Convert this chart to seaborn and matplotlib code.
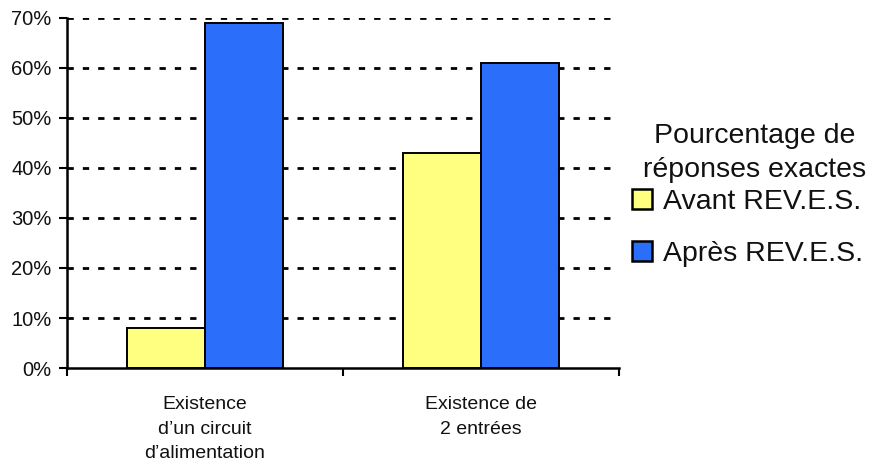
import matplotlib
matplotlib.use("Agg")
import matplotlib.pyplot as plt
import seaborn as sns
import pandas as pd
from matplotlib.ticker import FixedLocator, FuncFormatter
from matplotlib.patches import Patch

categories = ["Existence\nd\u2019un circuit\nd\u2019alimentation", "Existence de\n2 entrées"]
series = ["Avant REV.E.S.", "Après REV.E.S."]
avant = [8, 43]
apres = [69, 61]
yticks = [0, 10, 20, 30, 40, 50, 60, 70]
colors = ["#FFFF80", "#2A6EFA"]
legend_title = ["Pourcentage de", "réponses exactes"]

df = pd.DataFrame({
    "cat": categories * 2,
    "serie": [series[0]] * 2 + [series[1]] * 2,
    "val": avant + apres,
})

sns.set_theme(style="white")
plt.rcParams["font.family"] = ["Liberation Sans", "DejaVu Sans"]

W, H = 870, 465
fig = plt.figure(figsize=(8.7, 4.65), dpi=100)
ax = fig.add_axes([0.077, 0.2086, 0.6345, 0.7527])

ax.set_axisbelow(True)
for v in yticks[1:]:
    ax.axhline(v, color="black", lw=2.0, dashes=(2.27, 3.25), zorder=0)

sns.barplot(data=df, x="cat", y="val", hue="serie", palette=colors,
            width=0.566, edgecolor="black", linewidth=1.4, saturation=1,
            ax=ax, legend=False, zorder=2)

ax.set_ylim(0, 70)
ax.set_xlim(-0.5, 1.5)
ax.set_yticks(yticks)
ax.yaxis.set_major_formatter(FuncFormatter(lambda v, p: f"{int(v)}%"))
ax.set_xlabel("")
ax.set_ylabel("")

ax.tick_params(axis="y", which="major", length=6, width=1.5, color="black",
               direction="out", left=True, labelsize=14.5, pad=5, labelcolor="#111111")
ax.tick_params(axis="x", which="major", length=0, labelsize=14, pad=20, labelcolor="#111111")
ax.xaxis.set_minor_locator(FixedLocator([-0.5, 0.5, 1.5]))
ax.tick_params(axis="x", which="minor", length=6, width=1.5, color="black",
               direction="out", bottom=True)
for lbl in ax.get_xticklabels():
    lbl.set_linespacing(1.6)

for s in ["top", "right"]:
    ax.spines[s].set_visible(False)
for s in ["left", "bottom"]:
    ax.spines[s].set_color("black")
    ax.spines[s].set_linewidth(1.8)

handles = [Patch(facecolor=c, edgecolor="black", linewidth=1.8) for c in colors]
for line, yb in zip(legend_title, [143, 177]):
    fig.text(755 / W, 1 - yb / H, line, ha="center", va="baseline", fontsize=20.5,
             color="#111111")
fig.legend(handles, series, loc="upper left", bbox_to_anchor=(0.7264, 0.593),
           frameon=False, fontsize=20.5, handlelength=0.7, handleheight=0.7,
           handletextpad=0.38, labelspacing=0.9, borderaxespad=0, borderpad=0,
           labelcolor="#111111")

fig.savefig("out.png", dpi=100)
